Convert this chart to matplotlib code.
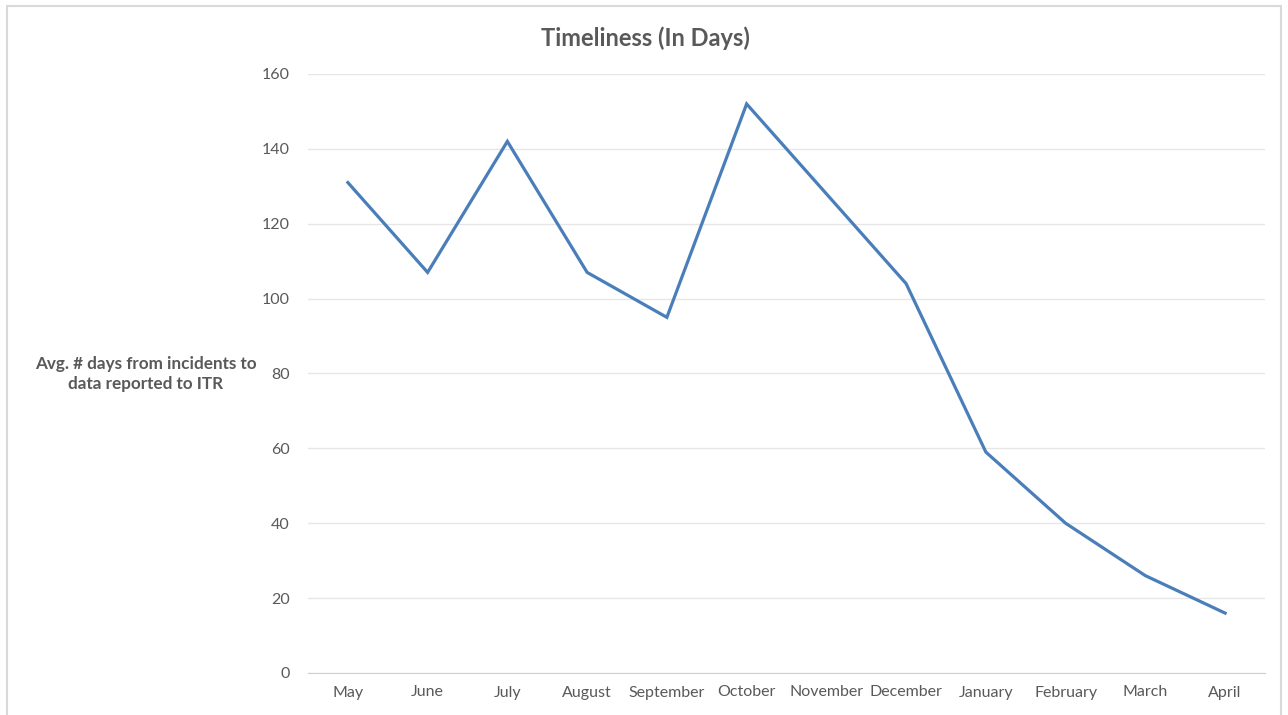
import matplotlib.pyplot as plt
from matplotlib.patches import Rectangle

months = ["May", "June", "July", "August", "September", "October",
          "November", "December", "January", "February", "March", "April"]
avg_days = [131, 107, 142, 107, 95, 152, 128, 104, 59, 40, 26, 16]
y_ticks = [0, 20, 40, 60, 80, 100, 120, 140, 160]

plt.rcParams['font.family'] = ['Lato', 'DejaVu Sans']

fig = plt.figure(figsize=(12.88, 7.15), dpi=100)
ax = fig.add_axes([308 / 1288, 1 - 673 / 715, (1265 - 308) / 1288, (673 - 74) / 715])

x = range(len(months))
ax.plot(x, avg_days, color="#4A7EBB", linewidth=2.3, solid_joinstyle="miter")

ax.set_xlim(-0.5, len(months) - 0.5)
ax.set_ylim(0, 160)
ax.set_yticks(y_ticks)
ax.set_xticks(list(x))
ax.set_xticklabels(months)

ax.grid(axis="y", color="#E6E6E6", linewidth=1)
ax.set_axisbelow(True)
for side in ["top", "right", "left"]:
    ax.spines[side].set_visible(False)
ax.spines["bottom"].set_color("#CFCFCF")
ax.tick_params(axis="both", length=0, labelsize=11.5, colors="#595959")
ax.tick_params(axis="y", pad=13)
ax.tick_params(axis="x", pad=9)

fig.text(645 / 1288, 1 - 38 / 715, "Timeliness (In Days)", ha="center", va="center",
         fontsize=17, fontweight="bold", color="#595959")
fig.text(146 / 1288, 1 - 374 / 715, "Avg. # days from incidents to\ndata reported to ITR",
         ha="center", va="center", fontsize=12.3, fontweight="bold", color="#595959",
         linespacing=1.35)

# outer chart border
fig.patches.append(Rectangle((7 / 1288, -0.01), (1281 - 7) / 1288, 1 - 6 / 715 + 0.01,
                             transform=fig.transFigure, fill=False,
                             edgecolor="#D9D9D9", linewidth=1.5))

fig.savefig("out.png", dpi=100, facecolor="white")
plt.close()
